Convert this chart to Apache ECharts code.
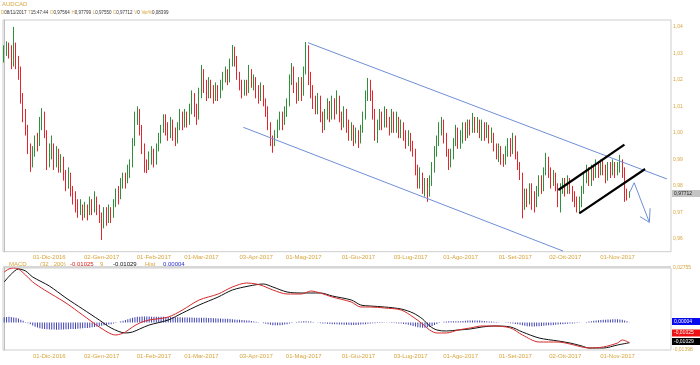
<!DOCTYPE html>
<html><head><meta charset="utf-8">
<script src="https://cdn.jsdelivr.net/npm/echarts@6/dist/echarts.min.js"></script>
<style>html,body{margin:0;padding:0;background:#fff}#c{width:700px;height:365px}</style>
</head><body><div id="c"></div>
<script>
// ---- data (prices in 1e-4 units, MACD in 1e-5 units) ----
const startDate = [2016, 10, 4];   // first bar: 04-Nov-2016 (weekday bars)
const padBars = 17;                // empty future slots on the right
const firstOpen = 10280;
const closes = [
10300,10320,10305,10290,10330,10270,10230,10140,10080,10020,
9950,9890,9930,9970,9960,10030,10060,10000,9890,9930,
9950,9890,9920,9870,9900,9840,9800,9840,9780,9760,
9730,9700,9720,9690,9720,9700,9740,9710,9750,9720,
9680,9660,9700,9670,9710,9690,9730,9770,9760,9800,
9830,9810,9850,9880,9960,10050,10080,10020,9950,9880,
9860,9900,9930,9890,9940,9980,10010,10050,10020,9990,
10040,10000,9970,10020,10060,10030,10070,10040,10090,10130,
10100,10050,10140,10220,10180,10140,10190,10160,10130,10170,
10140,10180,10210,10230,10200,10260,10310,10280,10220,10180,
10150,10180,10160,10230,10190,10200,10160,10140,10170,10120,
10090,10030,9970,9960,9990,10030,10060,10040,10080,10110,
10200,10240,10170,10130,10190,10150,10230,10320,10210,10160,
10120,10090,10130,10060,10020,10070,10100,10060,10120,10080,
10130,10070,10040,10080,10030,9990,10020,9970,10000,9960,
10010,10060,10140,10180,10150,10080,10000,10030,10070,10040,
10080,10050,10010,10060,10020,10050,10000,10030,9990,9960,
9990,9950,9930,9860,9820,9840,9790,9810,9770,9820,
9870,9930,9970,10020,10040,9990,9930,9890,9920,9960,
10000,9960,9990,10020,9990,10030,10010,10050,10020,10040,
10000,10030,9990,10020,9980,9990,9950,9920,9940,9900,
9880,9930,9960,9930,9980,9920,9880,9850,9730,9770,
9740,9790,9760,9730,9780,9820,9790,9850,9900,9860,
9810,9840,9800,9760,9790,9810,9780,9820,9790,9760,
9740,9710,9740,9780,9830,9860,9820,9860,9840,9880,
9850,9890,9860,9830,9870,9850,9880,9850,9870,9890,
9850,9760,9756,9771];
const highs = [
10330,10345,10340,10330,10399,10340,10290,10250,10150,10090,
10030,9960,9950,9990,10000,10060,10093,10080,10010,9960,
9990,9960,9950,9940,9920,9910,9860,9870,9850,9800,
9780,9750,9750,9730,9740,9730,9760,9750,9780,9760,
9730,9700,9720,9720,9730,9720,9750,9790,9800,9830,
9850,9850,9880,9900,9980,10080,10100,10090,10030,9960,
9900,9930,9950,9940,9960,10000,10030,10070,10070,10040,
10060,10050,10020,10040,10090,10080,10090,10080,10110,10160,
10150,10110,10170,10256,10240,10200,10210,10200,10180,10190,
10180,10200,10230,10250,10240,10280,10331,10325,10290,10230,
10200,10200,10200,10256,10240,10220,10210,10180,10190,10180,
10130,10100,10040,9990,10010,10050,10080,10080,10100,10130,
10220,10263,10250,10190,10210,10210,10250,10342,10330,10230,
10180,10140,10150,10140,10080,10090,10130,10120,10140,10130,
10160,10140,10080,10100,10090,10050,10040,10030,10020,10010,
10030,10080,10160,10207,10200,10160,10090,10050,10090,10080,
10100,10090,10060,10090,10080,10080,10060,10050,10040,10010,
10010,10000,9970,9940,9880,9870,9850,9830,9830,9840,
9890,9950,9990,10040,10060,10050,10000,9940,9940,9980,
10030,10020,10010,10040,10040,10050,10050,10075,10060,10060,
10050,10050,10040,10040,10030,10020,10000,9960,9960,9950,
9920,9950,9980,9980,10000,9990,9930,9890,9850,9790,
9790,9810,9810,9780,9800,9840,9840,9870,9925,9910,
9870,9860,9850,9810,9810,9830,9830,9840,9830,9800,
9780,9760,9760,9800,9850,9880,9870,9880,9880,9900,
9890,9900,9900,9880,9890,9890,9900,9890,9890,9917,
9900,9870,9790,9780];
const lows = [
10265,10290,10280,10240,10250,10240,10200,10110,10040,9990,
9920,9853,9870,9910,9930,9950,10010,9980,9860,9870,
9900,9860,9870,9850,9850,9820,9780,9790,9760,9730,
9700,9680,9690,9670,9680,9670,9690,9690,9700,9690,
9660,9596,9640,9650,9660,9660,9680,9720,9730,9750,
9790,9790,9810,9830,9870,9950,10030,9990,9920,9850,
9848,9860,9880,9870,9880,9930,9960,10000,9990,9970,
9980,9970,9950,9960,10010,10010,10020,10020,10030,10070,
10060,10030,10050,10130,10150,10120,10130,10130,10110,10120,
10120,10130,10160,10190,10180,10190,10250,10250,10200,10160,
10130,10140,10140,10150,10170,10160,10130,10110,10120,10100,
10060,10010,9950,9925,9950,9980,10010,10010,10030,10060,
10100,10180,10150,10110,10120,10120,10140,10220,10180,10130,
10090,10070,10070,10040,10000,10010,10050,10040,10050,10050,
10070,10040,10010,10020,10000,9970,9970,9950,9960,9943,
9960,10000,10050,10120,10120,10050,9970,9962,10010,10010,
10020,10020,9990,10000,10000,10000,9980,9980,9970,9940,
9950,9930,9910,9840,9790,9790,9770,9760,9740,9760,
9800,9850,9910,9950,9990,9960,9910,9860,9870,9900,
9950,9940,9940,9960,9970,9980,9990,10000,10000,10000,
9980,9970,9970,9980,9960,9962,9930,9900,9890,9880,
9872,9880,9910,9910,9920,9900,9860,9822,9678,9710,
9720,9730,9710,9700,9720,9760,9770,9780,9840,9830,
9790,9800,9780,9720,9700,9770,9760,9770,9770,9740,
9720,9700,9698,9720,9770,9810,9800,9800,9820,9830,
9830,9840,9840,9810,9820,9830,9840,9830,9840,9850,
9830,9740,9745,9755];
// MACD line and signal line: [bar index, value]
const macdLine = [[0,2552],[2,2704],[4,2755],[6,2704],[9,2400],[12,2046],[17,1641],[26,982],[33,374],[40,-233],[45,-588],[47,-638],[49,-588],[51,-486],[54,-233],[57,-31],[61,121],[69,273],[75,628],[82,1134],[90,1438],[96,1793],[102,1995],[106,1945],[109,1843],[113,1641],[119,1438],[125,1438],[129,1590],[133,1489],[138,1286],[146,1033],[150,780],[154,780],[160,729],[167,628],[172,273],[176,-81],[179,-385],[182,-537],[186,-537],[191,-385],[196,-284],[201,-182],[206,-182],[213,-284],[218,-638],[225,-993],[233,-993],[238,-1094],[243,-1246],[246,-1297],[252,-1246],[258,-1044],[260,-891],[263,-1025]];
const signalLine = [[0,2046],[3,2451],[6,2704],[9,2603],[12,2299],[19,1843],[26,1236],[33,678],[40,121],[45,-284],[51,-537],[54,-486],[57,-334],[61,-132],[69,121],[75,476],[82,881],[90,1286],[96,1641],[103,1843],[109,1945],[113,1793],[119,1540],[125,1489],[129,1489],[133,1489],[138,1337],[146,1134],[150,881],[154,830],[160,780],[167,678],[172,476],[176,172],[179,-182],[182,-385],[186,-436],[191,-385],[196,-334],[201,-233],[206,-182],[213,-233],[218,-486],[225,-790],[233,-942],[238,-1044],[243,-1196],[246,-1297],[252,-1297],[258,-1145],[263,-1029]];
const hist = [
260,270,280,270,250,230,200,
140,80,20,-40,
-100,-160,-220,-260,-300,-320,-340,-350,-360,-360,-360,-370,-370,-360,-360,-350,-350,-340,-340,-330,-320,-310,-300,-290,-280,-270,-250,
-230,-210,-190,-170,-150,-130,-110,-90,
-60,-30,0,40,80,120,160,
200,230,260,280,290,300,300,300,300,290,290,
290,280,280,280,270,270,270,260,260,260,260,250,250,250,250,250,240,240,240,240,230,230,220,220,210,210,200,200,190,180,180,170,160,150,140,130,
120,110,100,90,70,50,30,10,-10,
-40,-70,-100,-120,-140,-150,-150,-140,-130,-110,-90,
-60,-30,0,20,40,50,60,60,50,40,
20,0,-20,-40,-50,-60,-70,-80,-90,-100,-100,-110,-110,-120,-120,-120,-130,
-130,-130,-120,-110,-100,-90,-70,-50,
-40,-40,-30,-30,-30,-20,-20,-20,-30,-30,-40,-50,-60,-80,-100,-120,
-150,-180,-210,-240,-260,-270,-270,-250,-220,-180,-130,-80,
-30,0,30,50,60,60,60,60,60,60,
70,80,90,90,100,100,90,90,80,70,60,50,40,30,
20,10,0,-10,-20,-30,-40,-60,-80,-100,-120,-150,
-170,-190,-200,-210,-210,-200,-190,-180,-170,-160,-150,-140,-130,
-120,-110,-100,-90,-80,-70,-60,-50,-40,-30,-20,-10,0,20,40,
60,80,100,110,120,130,140,150,150,160,160,160,150,130,100,60,4];
// drawn annotations: [bar index, price]
const channelTop = [[127.8,1.03397],[278.8,0.98261]];
const channelBottom = [[100.6,1.00209],[235.1,0.95545]];
const flagTop = [[233.1,0.97846],[260.9,0.99557]];
const flagBottom = [[241.9,0.96968],[269.6,0.98638]];
const arrowPath = [[263.3,0.97782],[265.0,0.98122],[271.4,0.96629]];
const arrowHead = [[267.5,0.96840],[271.4,0.96629],[271.7,0.97157]];
const monthsIt = ['Gen','Feb','Mar','Apr','Mag','Giu','Lug','Ago','Set','Ott','Nov','Dic'];

// ---- build ----
const cats = [];
let d = new Date(Date.UTC(startDate[0], startDate[1], startDate[2]));
while (cats.length < closes.length + padBars) {
  const wd = d.getUTCDay();
  if (wd !== 0 && wd !== 6) cats.push(d.toISOString().slice(0, 10));
  d = new Date(d.getTime() + 86400000);
}
const N = cats.length;
const ohlc = closes.map((c, i) => {
  const o = i === 0 ? firstOpen : closes[i - 1];
  return [o / 1e4, c / 1e4, lows[i] / 1e4, highs[i] / 1e4];
});
const showLab = (idx) => idx > 0 && idx < closes.length && cats[idx].slice(5, 7) !== cats[idx - 1].slice(5, 7);
const fmtDate = (v) => v.slice(8, 10) + '-' + monthsIt[+v.slice(5, 7) - 1] + '-' + v.slice(0, 4);

const gold = '#d7a53c', upC = '#2f8f3a', dnC = '#e3262e', ff = 'Liberation Sans, Arial, sans-serif';
const mainMin = 0.955214, mainMax = 1.042525, macdMin = -0.01398, macdMax = 0.02755;

const xCat = (gi) => ({type: 'category', gridIndex: gi, data: cats, boundaryGap: true,
  axisLine: {show: false}, axisTick: {show: false}, splitLine: {show: false},
  axisLabel: {interval: showLab, formatter: fmtDate, color: gold, fontSize: 6, fontFamily: ff, margin: 3}});
const xVal = (gi) => ({type: 'value', gridIndex: gi, min: -0.5, max: N - 0.5, show: false});
const ann = (data, color, w) => ({type: 'line', xAxisIndex: 2, yAxisIndex: 0, data: data.map(p => [p[0], p[1]]),
  symbol: 'none', clip: true, lineStyle: {color: color, width: w}, silent: true, z: 5});

const txt = (x, y, s, fill, size) => ({type: 'text', x: x, y: y,
  style: {text: s, fill: fill, font: size + 'px ' + ff, textVerticalAlign: 'middle'}});
const boxTxt = (x, y, s, bg, fg) => ({type: 'text', x: x, y: y,
  style: {text: s, fill: fg, font: '5px ' + ff, textVerticalAlign: 'middle', backgroundColor: bg, padding: [1, 3, 1, 2], width: 24}});

// header line: [label, value] pairs
const header = [['D','08/11/2017'],['T','15:47:44'],['O','0,97564'],['H','0,97799'],['L','0,97550'],['C','0,97712'],['V','0'],['Var%','0,08399']];
const headerRich = header.map(h => '{g|' + h[0] + '}{v|' + h[1] + '}').join('{s| }');
const macdLegend = [['MACD',9,gold],['(32 , 200)',40,gold],['-0,01025',70,'#e02020'],['9',100,gold],['-0,01029',113,'#111'],['Hist',145,gold],['0,00004',163,'#2a2ad0']];

const graphics = [txt(2, 4.5, 'AUDCAD', gold, 6),
  {type: 'text', x: 1, y: 13, style: {text: headerRich, textVerticalAlign: 'middle', font: '4.5px ' + ff,
    rich: {g: {fill: gold, font: '4.5px ' + ff}, v: {fill: '#333', font: '4.5px ' + ff}, s: {font: '6px ' + ff}}}}]
  .concat(macdLegend.map(h => txt(h[1], 264, h[0], h[2], 6)))
  .concat([
    {type: 'rect', shape: {x: 3, y: 266, width: 668, height: 2}, style: {fill: '#d6d6d6'}},
    boxTxt(672, 193.5, '0,97712', '#c4c4c4', '#222'),
    boxTxt(672, 321.5, '0,00004', '#0a0aee', '#fff'),
    boxTxt(672, 333, '-0,01025', '#ee1111', '#fff'),
    boxTxt(672, 341.5, '-0,01029', '#000', '#fff')
  ]);

const chart = echarts.init(document.getElementById('c'), null, {renderer: 'canvas'});
chart.setOption({
  animation: false,
  backgroundColor: '#fff',
  grid: [
    {left: 3, right: 29, top: 20, height: 231.7, show: true, borderColor: '#cdcdcd', borderWidth: 1},
    {left: 3, right: 29, top: 268, height: 82, show: true, borderColor: '#cdcdcd', borderWidth: 1}
  ],
  xAxis: [xCat(0), xCat(1), xVal(0), xVal(1)],
  yAxis: [
    {type: 'value', gridIndex: 0, position: 'right', min: mainMin, max: mainMax, splitNumber: 8,
      axisLine: {show: true, lineStyle: {color: '#bdbdbd'}}, axisTick: {show: false}, splitLine: {show: false},
      axisLabel: {color: gold, fontSize: 5, fontFamily: ff, margin: 2, showMinLabel: false, showMaxLabel: false,
        formatter: v => Math.abs(v * 100 - Math.round(v * 100)) < 1e-6 ? v.toFixed(2).replace('.', ',') : ''}},
    {type: 'value', gridIndex: 1, position: 'right', min: macdMin, max: macdMax, splitNumber: 2,
      axisLine: {show: true, lineStyle: {color: '#bdbdbd'}}, axisTick: {show: false}, splitLine: {show: false},
      axisLabel: {color: gold, fontSize: 5, fontFamily: ff, margin: 2, showMinLabel: true, showMaxLabel: true,
        formatter: v => (Math.abs(v - macdMin) < 1e-9 || Math.abs(v - macdMax) < 1e-9) ? v.toFixed(5).replace('.', ',') : ''}}
  ],
  series: [
    {type: 'candlestick', xAxisIndex: 0, yAxisIndex: 0, data: ohlc, barWidth: 1.2,
      itemStyle: {color: upC, color0: dnC, borderColor: upC, borderColor0: dnC, borderWidth: 1}},
    ann(channelTop, '#6f8fd8', 1),
    ann(channelBottom, '#6f8fd8', 1),
    ann(flagTop, '#000', 2.2),
    ann(flagBottom, '#000', 2.2),
    ann(arrowPath, '#6f8fd8', 1),
    ann(arrowHead, '#6f8fd8', 1),
    {type: 'bar', xAxisIndex: 1, yAxisIndex: 1, data: hist.map(v => v / 1e5), barWidth: 1,
      itemStyle: {color: '#4040b0'}, silent: true},
    {type: 'line', xAxisIndex: 3, yAxisIndex: 1, data: signalLine.map(p => [p[0], p[1] / 1e5]), symbol: 'none', smooth: 0.3,
      lineStyle: {color: '#111', width: 1}},
    {type: 'line', xAxisIndex: 3, yAxisIndex: 1, data: macdLine.map(p => [p[0], p[1] / 1e5]), symbol: 'none', smooth: 0.3,
      lineStyle: {color: '#d42a2a', width: 1}}
  ],
  graphic: graphics
});
</script>
</body></html>
